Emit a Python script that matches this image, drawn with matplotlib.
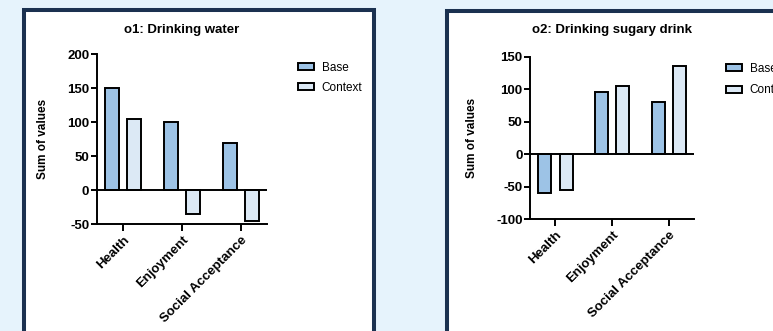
import matplotlib.pyplot as plt
import numpy as np
from matplotlib.patches import Rectangle, Patch

plt.rcParams["font.family"] = ["Liberation Sans", "DejaVu Sans"]
plt.rcParams["axes.unicode_minus"] = False

categories = ["Health", "Enjoyment", "Social Acceptance"]
series_names = ["Base", "Context"]

water_base = [150, 100, 70]
water_context = [105, -35, -45]

sugary_base = [-60, 95, 80]
sugary_context = [-55, 105, 135]

titles = ["o1: Drinking water", "o2: Drinking sugary drink"]
ylims = [(-50, 200), (-100, 150)]
yticks = [[-50, 0, 50, 100, 150, 200], [-100, -50, 0, 50, 100, 150]]

BG = "#e6f3fc"
BORDER = "#1b3150"
BASE_COLOR = "#9dc3e6"
CONTEXT_COLOR = "#dce9f5"

W, H = 773, 331
fig = plt.figure(figsize=(W / 100, H / 100), dpi=100)
fig.patch.set_facecolor(BG)


def px_box(x0, y0, x1, y1):
    # pixel box (top-left origin) -> figure fraction
    return [x0 / W, 1 - y1 / H, (x1 - x0) / W, (y1 - y0) / H]


# panel frames
for x0, x1, y0 in [(24, 374, 10), (447, 790, 11)]:
    fig.patches.append(Rectangle((x0 / W, -0.05), (x1 - x0) / W, 1 - y0 / H + 0.05,
                                 transform=fig.transFigure, facecolor="white",
                                 edgecolor=BORDER, linewidth=2.9, zorder=-1))

axes_boxes = [px_box(97, 54.3, 267, 224.3), px_box(530.3, 56.7, 694, 219.3)]
data = [(water_base, water_context), (sugary_base, sugary_context)]
legend_pos = [(292, 56), (720, 57)]
legend_spacing = [0.65, 0.8]
title_pads = [15, 17]

x = np.arange(len(categories))
width = 0.23
offset = 0.19
lw = 1.4

for i in range(2):
    ax = fig.add_axes(axes_boxes[i])
    ax.set_zorder(2)
    ax.set_facecolor("none")
    base, context = data[i]
    ax.bar(x - offset, base, width, color=BASE_COLOR, edgecolor="black", linewidth=lw, zorder=3)
    ax.bar(x + offset, context, width, color=CONTEXT_COLOR, edgecolor="black", linewidth=lw, zorder=3)
    ax.axhline(0, color="black", linewidth=lw, zorder=4)
    ax.set_xlim(-0.44, 2.44)
    ax.set_ylim(*ylims[i])
    ax.set_yticks(yticks[i])
    ax.set_xticks(x)
    ax.set_xticklabels(categories, rotation=45, ha="right", rotation_mode="anchor",
                       fontsize=9.5, fontweight="bold")
    for lab in ax.get_yticklabels():
        lab.set_fontweight("bold")
    ax.tick_params(axis="y", labelsize=9.5, length=4, width=lw, pad=1.5)
    ax.tick_params(axis="x", length=5, width=lw, pad=2)
    for s in ["top", "right"]:
        ax.spines[s].set_visible(False)
    for s in ["left", "bottom"]:
        ax.spines[s].set_linewidth(lw)
    ax.set_ylabel("Sum of values", fontsize=8.5, fontweight="bold", labelpad=13)
    ax.set_title(titles[i], fontsize=9.5, fontweight="bold", pad=title_pads[i])

    handles = [Patch(facecolor=BASE_COLOR, edgecolor="black", linewidth=lw),
               Patch(facecolor=CONTEXT_COLOR, edgecolor="black", linewidth=lw)]
    lx, ly = legend_pos[i]
    leg = fig.legend(handles, series_names, loc="upper left", bbox_to_anchor=(lx / W, 1 - ly / H),
                     frameon=False, fontsize=8.5, handlelength=1.4, handleheight=0.5,
                     labelspacing=legend_spacing[i], handletextpad=0.6, borderpad=0)
    leg.set_zorder(3)

fig.savefig("out.png", dpi=100, facecolor=BG)
